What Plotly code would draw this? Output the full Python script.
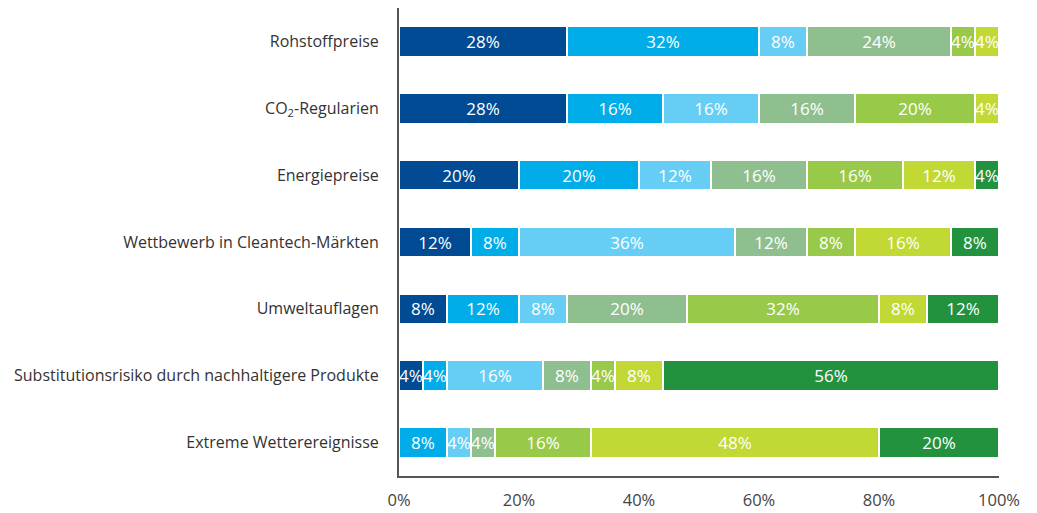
import plotly.graph_objects as go

categories = ["Rohstoffpreise", "CO<sub>2</sub>-Regularien", "Energiepreise",
              "Wettbewerb in Cleantech-Märkten", "Umweltauflagen",
              "Substitutionsrisiko durch nachhaltigere Produkte", "Extreme Wetterereignisse"]

s1 = [28, 28, 20, 12, 8, 4, 0]
s2 = [32, 16, 20, 8, 12, 4, 8]
s3 = [8, 16, 12, 36, 8, 16, 4]
s4 = [24, 16, 16, 12, 20, 8, 4]
s5 = [4, 20, 16, 8, 32, 4, 16]
s6 = [4, 4, 12, 16, 8, 8, 48]
s7 = [0, 0, 4, 8, 12, 56, 20]

series = [s1, s2, s3, s4, s5, s6, s7]
colors = ["#004B93", "#00ADE8", "#66CEF5", "#8FBF8F", "#98C948", "#C2D835", "#22923F"]
tick_vals = [0, 20, 40, 60, 80, 100]
tick_text = ["0%", "20%", "40%", "60%", "80%", "100%"]

fig = go.Figure()
for vals, col in zip(series, colors):
    fig.add_trace(go.Bar(
        y=categories, x=vals, orientation="h",
        marker=dict(color=col, line=dict(color="white", width=1.5)),
        text=[f"{v}%" if v > 0 else "" for v in vals],
        textposition="inside", insidetextanchor="middle", textangle=0,
        textfont=dict(color="white", size=17, family="Open Sans"),
        cliponaxis=False, constraintext="none",
        hoverinfo="skip", showlegend=False,
    ))

fig.update_layout(
    barmode="stack", bargap=0.55,
    width=1029, height=505,
    margin=dict(l=391, r=38, t=0, b=37, autoexpand=False),
    plot_bgcolor="white", paper_bgcolor="white",
    font=dict(family="Open Sans", color="#333333", size=16),
    uniformtext=dict(mode="show", minsize=17),
    xaxis=dict(range=[0, 100], tickvals=tick_vals, ticktext=tick_text,
               showgrid=False, zeroline=False, showline=True, linecolor="#555555",
               linewidth=2, ticks="outside", ticklen=8, tickcolor="rgba(0,0,0,0)",
               tickfont=dict(size=16.5, color="#444444"), automargin=False),
    yaxis=dict(categoryorder="array", categoryarray=categories[::-1],
               showgrid=False, zeroline=False, showline=True, linecolor="#555555",
               linewidth=2, ticks="outside", ticklen=15, tickcolor="rgba(0,0,0,0)",
               tickfont=dict(size=16, color="#333333"), automargin=False),
)

fig.write_html("out.html")
